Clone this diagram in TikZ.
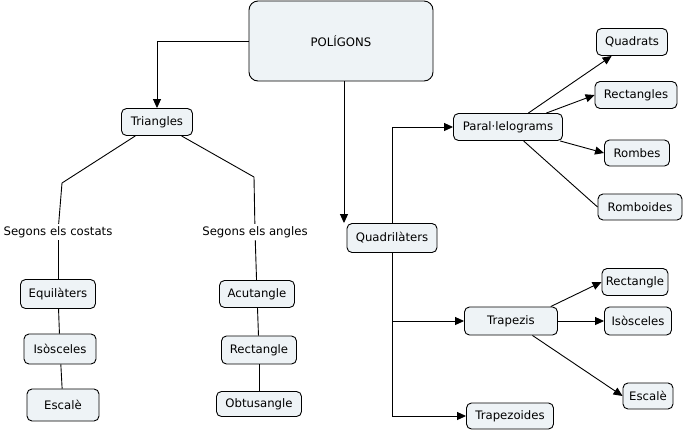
\documentclass[tikz,border=0pt]{standalone}
\usepackage{fontspec}
\setmainfont{DejaVu Sans}
\usepackage{xcolor}
\usepackage{tikz}
\usetikzlibrary{arrows.meta}
\definecolor{boxfill}{HTML}{EEF3F6}
\tikzset{every picture/.style={x=1pt,y=-1pt,line width=0.9pt,every node/.style={font=\fontsize{11.7}{14}\selectfont}},
  box/.style={rectangle, rounded corners=5pt, draw=black, fill=boxfill, minimum height=27pt, inner sep=0pt},
  tag/.style={inner sep=2pt},
  arr/.style={-{Triangle[length=9pt,width=8pt]}}}

\begin{document}
\begin{tikzpicture}
        \useasboundingbox (0,0) rectangle (683,432);
        \node[box, minimum width=184pt, minimum height=80pt, rounded corners=9pt] (pol) at (341,41) {POLÍGONS};
        \node[box, minimum width=71pt] (tri) at (157,122) {Triangles};
        \node[tag] (cos) at (58,232) {Segons els costats};
        \node[tag] (ang) at (255,232) {Segons els angles};
        \node[box, minimum width=75pt, minimum height=29pt] (equ) at (58,294) {Equilàters};
        \node[box, minimum width=72pt, minimum height=30pt] (iso) at (60,349) {Isòsceles};
        \node[box, minimum width=72pt, minimum height=32pt] (esc) at (63,405) {Escalè};
        \node[box, minimum width=75pt] (acu) at (257,294) {Acutangle};
        \node[box, minimum width=75pt, minimum height=28pt] (rec) at (259,350) {Rectangle};
        \node[box, minimum width=85pt, minimum height=25pt] (obt) at (259,404) {Obtusangle};
        \node[box, minimum width=90pt, minimum height=29pt] (quad) at (392,238) {Quadrilàters};
        \node[box, minimum width=109pt] (par) at (508,127) {Paral·lelograms};
        \node[box, minimum width=71pt] (qdr) at (632,42) {Quadrats};
        \node[box, minimum width=82pt] (rcs) at (636,95) {Rectangles};
        \node[box, minimum width=65pt, minimum height=26pt] (rmb) at (637,153) {Rombes};
        \node[box, minimum width=84pt, minimum height=26pt] (rmd) at (640,207) {Romboides};
        \node[box, minimum width=93pt, minimum height=28pt] (trz) at (511,321) {Trapezis};
        \node[box, minimum width=87pt, minimum height=26pt] (trd) at (510,416) {Trapezoides};
        \node[box, minimum width=66pt] (rct) at (635,282) {Rectangle};
        \node[box, minimum width=67pt, minimum height=28pt] (isq) at (638,321) {Isòsceles};
        \node[box, minimum width=50pt, minimum height=26pt] (esq) at (648,396) {Escalè};
        \coordinate (c1) at (62,183);
        \coordinate (c2) at (254,177);

        \draw[arr] (pol.west) -| (tri.north);
        \draw[arr] ([xshift=3pt]pol.south) -- ([xshift=3pt]pol.south |- quad.north);
        \draw[arr] (quad.north) |- (par.west);
        \draw[arr] (quad.south) |- (trz.west);
        \draw[arr] (quad.south) |- (trd.west);

        \foreach \from/\to in {
          tri/c1, c1/cos, cos/equ, equ/iso, iso/esc,
          tri/c2, c2/ang, ang/acu, acu/rec, rec/obt,
          par/rmd.west}
        \draw (\from) -- (\to);

        \foreach \from/\to in {
          par/qdr, par.20/rcs.west, par.-15/rmb.west,
          trz.20/rct.west, trz.east/isq.west, trz/esq.west}
        \draw[arr] (\from) -- (\to);
      \end{tikzpicture}
\end{document}
